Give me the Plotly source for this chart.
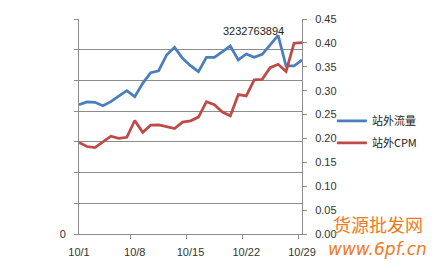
import plotly.graph_objects as go

dates = [f"10/{d}" for d in range(1, 30)]
traffic = [2105000000, 2149000000, 2144000000, 2089000000, 2154000000, 2247000000,
           2333000000, 2235000000, 2453000000, 2626000000, 2658000000, 2914000000,
           3039000000, 2860000000, 2740000000, 2642000000, 2877000000, 2877000000,
           2968000000, 3060000000, 2833000000, 2930000000, 2877000000, 2925000000,
           3077000000, 3232763894, 2735000000, 2735000000, 2833000000]
cpm = [0.1916, 0.1831, 0.1810, 0.1937, 0.2046, 0.2004, 0.2025, 0.2376, 0.2127,
       0.2278, 0.2285, 0.2249, 0.2207, 0.2342, 0.2369, 0.2447, 0.2770, 0.2707,
       0.2553, 0.2475, 0.2918, 0.2890, 0.3228, 0.3238, 0.3481, 0.3551, 0.3403,
       0.3994, 0.4008]
left_ticks = [0, 5e8, 1e9, 1.5e9, 2e9, 2.5e9, 3e9, 3.5e9]
left_labels = ["0", "", "", "", "", "", "", ""]
series_names = ["站外流量", "站外CPM"]
peak_label = "3232763894"
watermark = ["货源批发网", "www.6pf.cn"]

BLUE = "#4A7EBB"
RED = "#BE4B48"
GRID = "#8C8C8C"
TXT = "#333333"
ORANGE = "#F07A20"
FONT = "Liberation Sans"

fig = go.Figure()
fig.add_trace(go.Scatter(x=dates, y=traffic, name=series_names[0], mode="lines",
                         line=dict(color=BLUE, width=2.75), legendgroup="a"))
fig.add_trace(go.Scatter(x=dates, y=cpm, name=series_names[1], mode="lines",
                         line=dict(color=RED, width=2.75), yaxis="y2", legendgroup="b"))

peak_i = traffic.index(max(traffic))
fig.add_annotation(x=dates[peak_i], y=traffic[peak_i], text=peak_label,
                   showarrow=False, xanchor="right", yanchor="middle",
                   xshift=8, yshift=4, font=dict(size=11, color="#222", family=FONT))

fig.add_annotation(x=1.34, y=0.045, xref="paper", yref="paper", text=watermark[0],
                   showarrow=False, xanchor="center", yanchor="middle",
                   font=dict(size=18, color=ORANGE, family="Noto Sans CJK SC"))
fig.add_annotation(x=1.34, y=-0.07, xref="paper", yref="paper",
                   text="<i>" + watermark[1] + "</i>",
                   showarrow=False, xanchor="center", yanchor="middle",
                   font=dict(size=17, color=ORANGE, family="DejaVu Sans"))

fig.update_layout(
    width=441, height=270,
    margin=dict(l=79, r=139, t=19, b=36),
    paper_bgcolor="white", plot_bgcolor="white",
    font=dict(family=FONT, size=11, color=TXT),
    showlegend=True,
    legend=dict(x=1.134, y=0.475, xanchor="left", yanchor="middle",
                font=dict(size=11, color="#222", family="Noto Sans CJK SC"),
                tracegroupgap=3, bgcolor="rgba(0,0,0,0)"),
    xaxis=dict(type="category", tickson="boundaries", dtick=7, ticks="outside",
               ticklen=4, tickcolor=GRID, showgrid=False, showline=True,
               linecolor=GRID, linewidth=1, tickangle=0, ticklabelstandoff=8,
               tickfont=dict(size=11, color=TXT)),
    yaxis=dict(range=[0, 3.5e9], tickvals=left_ticks, ticktext=left_labels,
               showgrid=True, gridcolor=GRID, gridwidth=1, showline=True,
               linecolor=GRID, ticks="outside", ticklen=4, tickcolor=GRID,
               zeroline=False, ticklabelstandoff=6,
               tickfont=dict(size=11, color=TXT)),
    yaxis2=dict(range=[0, 0.45], dtick=0.05, tickformat=".2f", overlaying="y",
                side="right", showgrid=False, showline=True, linecolor=GRID,
                ticks="outside", ticklen=4, tickcolor=GRID, zeroline=False,
                ticklabelstandoff=6, tickfont=dict(size=11, color=TXT)),
)

fig.write_html("out.html")
